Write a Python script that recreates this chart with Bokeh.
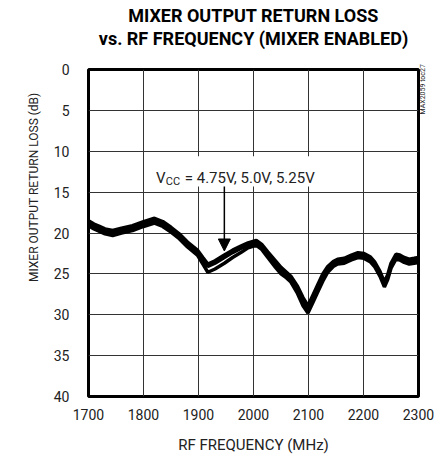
import numpy as np
from bokeh.plotting import figure
from bokeh.models import (Range1d, Label, Arrow, NormalHead, BoxAnnotation, FixedTicker,
                          Title, LinearAxis)
from bokeh.embed import file_html
from bokeh.resources import INLINE

# ---- data ----
freq = [1700, 1710, 1720, 1730, 1744, 1760, 1780, 1800, 1820, 1835, 1850, 1865, 1880,
        1898, 1908, 1917, 1930, 1947, 1962, 1977, 1990, 2005, 2015, 2026, 2040, 2050,
        2060, 2068, 2080, 2090, 2099, 2108, 2117, 2126, 2135, 2145, 2153, 2165, 2178,
        2190, 2201, 2212, 2220, 2230, 2238, 2244, 2250, 2259, 2266, 2274, 2283, 2292, 2300]
rl_500 = [18.8, 19.2, 19.5, 19.8, 20.0, 19.7, 19.4, 18.9, 18.5, 18.9, 19.6, 20.4, 21.4,
          22.4, 23.3, 24.1, 23.7, 23.0, 22.4, 21.9, 21.5, 21.2, 21.7, 22.6, 23.8, 24.6,
          25.1, 25.6, 26.9, 28.3, 29.3, 28.0, 26.7, 25.4, 24.4, 23.8, 23.5, 23.4, 23.0,
          22.7, 22.8, 23.2, 23.8, 25.0, 26.3, 25.4, 24.0, 22.9, 23.0, 23.3, 23.5, 23.4, 23.3]
rl_475 = [19.1, 19.5, 19.8, 20.1, 20.3, 20.0, 19.7, 19.2, 18.8, 19.2, 19.9, 20.7, 21.7,
          22.7, 23.8, 24.8, 24.4, 23.7, 23.0, 22.4, 21.8, 21.5, 22.0, 23.0, 24.2, 25.0,
          25.5, 26.0, 27.4, 28.9, 29.8, 28.5, 27.2, 25.9, 24.8, 24.1, 23.8, 23.7, 23.3,
          23.0, 23.1, 23.5, 24.1, 25.3, 26.6, 25.7, 24.3, 23.2, 23.3, 23.6, 23.8, 23.7, 23.6]
rl_525 = [18.5, 18.9, 19.2, 19.5, 19.7, 19.4, 19.1, 18.6, 18.2, 18.6, 19.3, 20.1, 21.1,
          22.1, 23.0, 23.8, 23.4, 22.7, 22.1, 21.6, 21.2, 20.9, 21.4, 22.3, 23.4, 24.2,
          24.8, 25.3, 26.5, 27.9, 28.9, 27.6, 26.3, 25.0, 24.1, 23.5, 23.2, 23.1, 22.7,
          22.4, 22.5, 22.9, 23.5, 24.7, 26.0, 25.1, 23.7, 22.6, 22.7, 23.0, 23.2, 23.1, 23.0]
x_ticks = [1700, 1800, 1900, 2000, 2100, 2200, 2300]
y_ticks = [0, 5, 10, 15, 20, 25, 30, 35, 40]
title1 = "MIXER OUTPUT RETURN LOSS"
title2 = "vs. RF FREQUENCY (MIXER ENABLED)"
xlabel = "RF FREQUENCY (MHz)"
ylabel = "MIXER OUTPUT RETURN LOSS (dB)"
note = "MAX2059 toc27"

FONT = "Roboto"
TXT = "#222222"

p = figure(width=440, height=456, output_backend="svg", toolbar_location=None,
           x_range=Range1d(1700, 2300), y_range=Range1d(40, 0),
           min_border_left=88, min_border_right=22, min_border_top=69, min_border_bottom=59)
p.outline_line_color = "black"
p.outline_line_width = 3
p.background_fill_color = "white"
p.border_fill_color = "white"

# two-line title: a thin spacer next to the frame, then line 2, then p.title (line 1)
p.title.text = title1
p.title.align = "center"
p.title.text_font = FONT
p.title.text_font_style = "bold"
p.title.text_font_size = "18px"
p.title.text_color = "black"
p.title.standoff = 0
p.add_layout(Title(text=" ", text_font_size="1px", standoff=18), "above")
p.add_layout(Title(text=title2, align="center", text_font=FONT, text_font_style="bold",
                   text_font_size="18px", text_color="black", standoff=0), "above")

p.xaxis.ticker = FixedTicker(ticks=x_ticks)
p.yaxis.ticker = FixedTicker(ticks=y_ticks)
for ax in (p.xaxis, p.yaxis):
    ax.axis_line_color = None
    ax.major_tick_line_color = None
    ax.minor_tick_line_color = None
    ax.major_tick_out = 0
    ax.major_tick_in = 0
    ax.major_label_text_font = FONT
    ax.major_label_text_font_size = "14px"
    ax.major_label_text_color = TXT
p.xaxis.major_label_standoff = 12
p.yaxis.major_label_standoff = 19
p.xaxis.axis_label = xlabel
p.xaxis.axis_label_text_font = FONT
p.xaxis.axis_label_text_font_size = "15px"
p.xaxis.axis_label_text_font_style = "normal"
p.xaxis.axis_label_text_color = TXT
p.xaxis.axis_label_standoff = 13

# y-axis title, placed toward the top like the reference
p.add_layout(Title(text=ylabel, align="right", offset=23, text_font=FONT,
                   text_font_style="normal", text_font_size="12px", text_color=TXT,
                   standoff=20), "left")

# small note on the right edge, reading bottom-to-top
note_axis = LinearAxis(ticker=FixedTicker(ticks=[5.5]), major_label_overrides={5.5: note})
note_axis.axis_line_color = None
note_axis.major_tick_line_color = None
note_axis.minor_tick_line_color = None
note_axis.major_tick_out = 0
note_axis.major_tick_in = 0
note_axis.major_label_orientation = np.pi / 2
note_axis.major_label_standoff = 5
note_axis.major_label_text_font = FONT
note_axis.major_label_text_font_size = "7px"
note_axis.major_label_text_color = TXT
p.add_layout(note_axis, "right")

p.xgrid.ticker = FixedTicker(ticks=x_ticks)
p.ygrid.ticker = FixedTicker(ticks=y_ticks)
for g in (p.xgrid, p.ygrid):
    g.grid_line_color = "#333333"
    g.grid_line_width = 1

for rl in (rl_475, rl_500, rl_525):
    p.line(freq, rl, line_color="black", line_width=3.5)

# annotation box + text
p.add_layout(BoxAnnotation(left=1814, right=2122, top=10.6, bottom=14.3,
                           fill_color="white", fill_alpha=1.0, line_alpha=0))
p.add_layout(Label(x=1822.7, y=13.33, text="V", text_font=FONT, text_font_size="15px",
                   text_color=TXT, text_baseline="alphabetic"))
p.add_layout(Label(x=1840.5, y=13.7, text="CC", text_font=FONT, text_font_size="11px",
                   text_color=TXT, text_baseline="alphabetic"))
p.add_layout(Label(x=1875, y=13.33, text="= 4.75V, 5.0V, 5.25V", text_font=FONT,
                   text_font_size="15px", text_color=TXT, text_baseline="alphabetic"))
p.add_layout(Arrow(x_start=1947, y_start=14.3, x_end=1947, y_end=22.2,
                   line_color="black", line_width=1.5,
                   end=NormalHead(size=12, fill_color="black", line_color="black")))

open("out.html", "w").write(file_html(p, INLINE))
